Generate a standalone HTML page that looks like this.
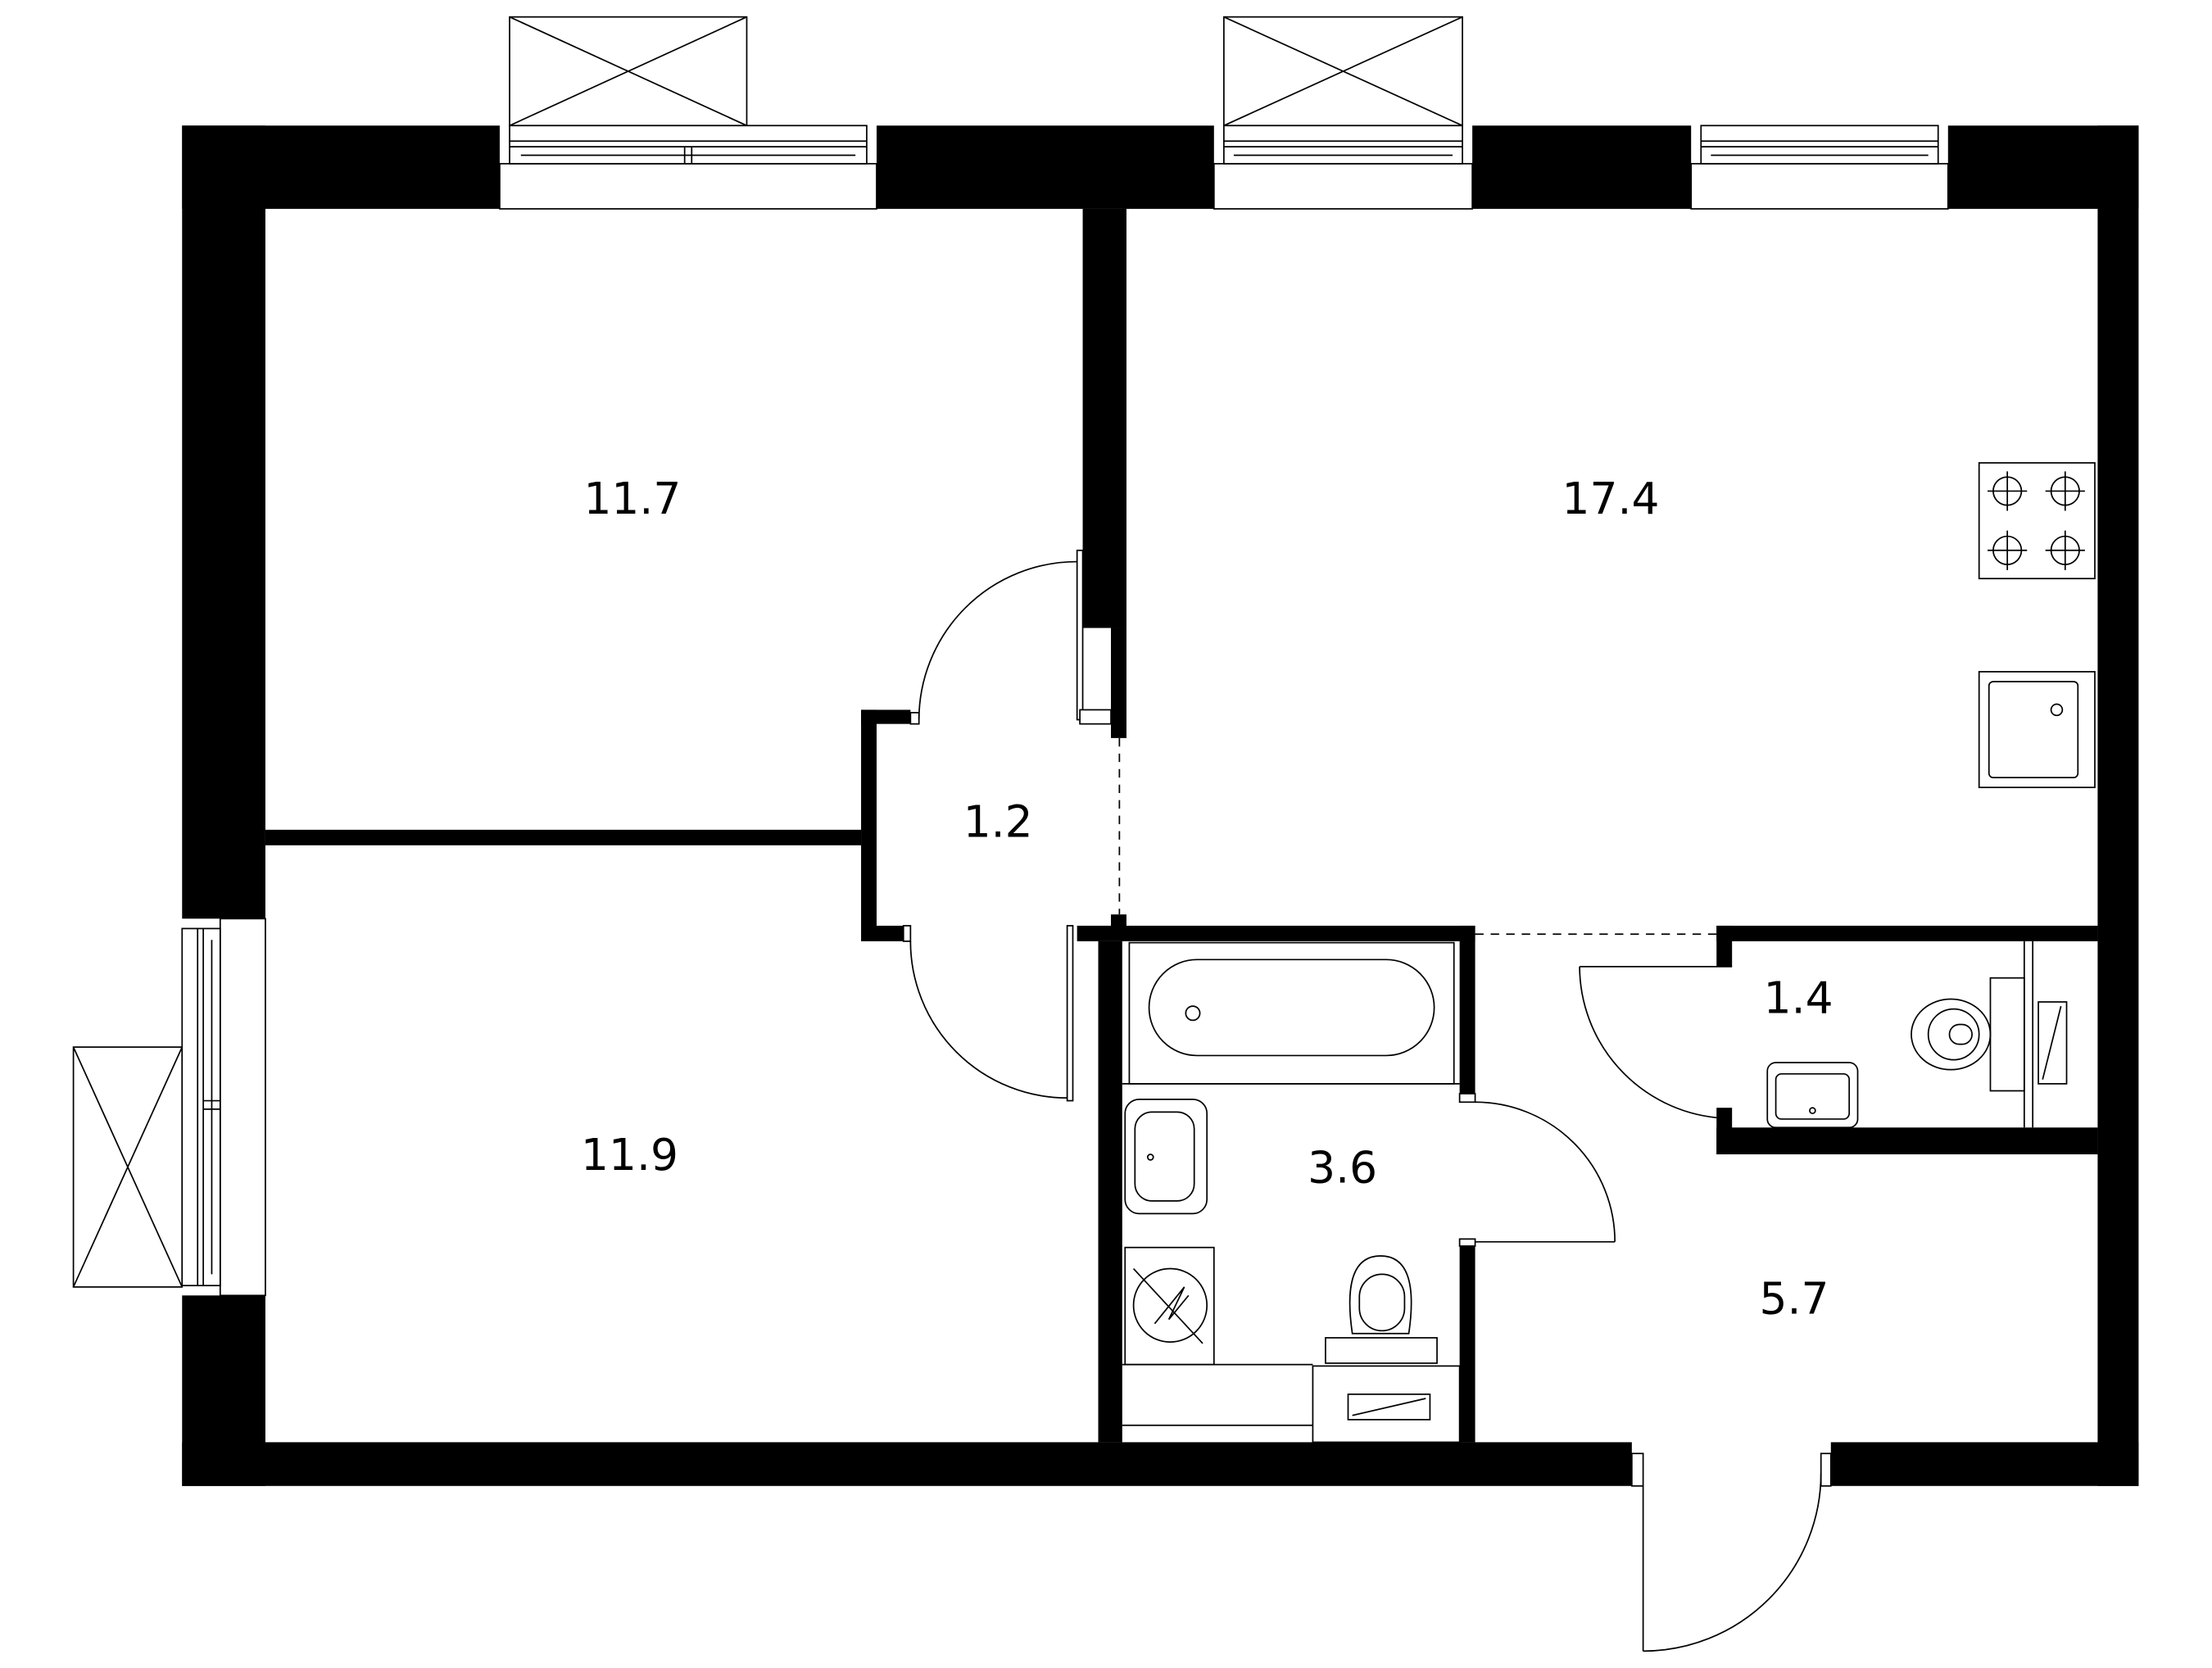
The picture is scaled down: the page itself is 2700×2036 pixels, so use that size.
<!DOCTYPE html>
<html><head><meta charset="utf-8"><style>html,body{margin:0;padding:0;background:#fff}svg{display:block}</style></head>
<body>
<svg width="2700" height="2036" viewBox="0 0 1567 1182" preserveAspectRatio="none" xmlns="http://www.w3.org/2000/svg">
<rect width="1567" height="1182" fill="#fff"/>
<g fill="none" stroke="#000" stroke-width="1">
<rect x="361" y="12" width="168" height="77"/><line x1="361" y1="12" x2="529" y2="89"/><line x1="529" y1="12" x2="361" y2="89"/>
<rect x="867" y="12" width="169" height="77"/><line x1="867" y1="12" x2="1036" y2="89"/><line x1="1036" y1="12" x2="867" y2="89"/>
<rect x="52" y="742" width="77" height="170"/><line x1="52" y1="742" x2="129" y2="912"/><line x1="129" y1="742" x2="52" y2="912"/>
</g>
<g fill="#000">
<rect x="129" y="89" width="225" height="59"/>
<rect x="621" y="89" width="239" height="59"/>
<rect x="1043" y="89" width="155" height="59"/>
<rect x="1380" y="89" width="135" height="59"/>
<rect x="129" y="89" width="59" height="562"/>
<rect x="129" y="918" width="59" height="135"/>
<rect x="1486" y="89" width="29" height="964"/>
<rect x="129" y="1022" width="1027" height="31"/>
<rect x="1297" y="1022" width="218" height="31"/>
<rect x="767" y="148" width="31" height="297"/>
<rect x="787" y="445" width="11" height="78"/>
<rect x="188" y="588" width="422" height="11"/>
<rect x="610" y="503" width="11" height="164"/>
<rect x="610" y="503" width="35" height="10"/>
<rect x="621" y="656" width="19" height="11"/>
<rect x="763" y="656" width="282" height="11"/>
<rect x="787" y="648" width="11" height="10"/>
<rect x="778" y="667" width="17" height="355"/>
<rect x="1034" y="656" width="11" height="119"/>
<rect x="1034" y="883" width="11" height="139"/>
<rect x="1216" y="656" width="270" height="11"/>
<rect x="1216" y="799" width="270" height="19"/>
<rect x="1216" y="656" width="11" height="29"/>
<rect x="1216" y="785" width="11" height="33"/>
</g>
<g fill="#fff" stroke="#000" stroke-width="1">
<rect x="354" y="116" width="267" height="32"/><rect x="361" y="89" width="253" height="27"/>
<line x1="361" y1="100" x2="614" y2="100"/><line x1="361" y1="104" x2="614" y2="104"/><line x1="369" y1="110" x2="606" y2="110"/><line x1="485" y1="104" x2="485" y2="116"/><line x1="490" y1="104" x2="490" y2="116"/>
<rect x="860" y="116" width="183" height="32"/><rect x="867" y="89" width="169" height="27"/>
<line x1="867" y1="100" x2="1036" y2="100"/><line x1="867" y1="104" x2="1036" y2="104"/><line x1="874" y1="110" x2="1029" y2="110"/>
<rect x="1198" y="116" width="182" height="32"/><rect x="1205" y="89" width="168" height="27"/>
<line x1="1205" y1="100" x2="1373" y2="100"/><line x1="1205" y1="104" x2="1373" y2="104"/><line x1="1212" y1="110" x2="1366" y2="110"/>
<rect x="156" y="651" width="32" height="267"/><rect x="129" y="658" width="27" height="253"/>
<line x1="140" y1="658" x2="140" y2="911"/><line x1="144" y1="658" x2="144" y2="911"/><line x1="150" y1="666" x2="150" y2="903"/><line x1="144" y1="780" x2="156" y2="780"/><line x1="144" y1="786" x2="156" y2="786"/>
</g>
<g fill="none" stroke="#000" stroke-width="1">
<rect x="763" y="390" width="4" height="120" fill="#fff"/>
<path d="M651,510 A112,112 0 0 1 763,398"/>
<rect x="645" y="505" width="6" height="8"/><rect x="765" y="503" width="22" height="10" fill="#fff"/>
<rect x="756" y="656" width="4" height="124" fill="#fff"/>
<path d="M645,667 A111,111 0 0 0 756,778"/><rect x="640" y="656" width="5" height="11"/>
<line x1="793" y1="523" x2="793" y2="648" stroke-dasharray="6,5"/>
<line x1="1045" y1="662" x2="1216" y2="662" stroke-dasharray="6,5"/>
<line x1="1045" y1="880" x2="1144" y2="880"/>
<path d="M1045,781 A99,99 0 0 1 1144,880"/>
<rect x="1034" y="775" width="11" height="6"/><rect x="1034" y="878" width="11" height="5"/>
<line x1="1119" y1="685" x2="1227" y2="685"/>
<path d="M1119,685 A108,108 0 0 0 1216,792"/>
<line x1="1164" y1="1053" x2="1164" y2="1170"/>
<path d="M1164,1170 A126,126 0 0 0 1290,1044"/>
<rect x="1156" y="1030" width="8" height="23"/><rect x="1290" y="1030" width="7" height="23"/>
<rect x="1402" y="328" width="82" height="82"/>
<circle cx="1422" cy="348" r="10"/><circle cx="1463" cy="348" r="10"/><circle cx="1422" cy="390" r="10"/><circle cx="1463" cy="390" r="10"/>
<path d="M1408,348h28M1422,334v28M1449,348h28M1463,334v28M1408,390h28M1422,376v28M1449,390h28M1463,376v28"/>
<rect x="1402" y="476" width="82" height="82"/><rect x="1409" y="483" width="63" height="68" rx="3"/><circle cx="1457" cy="503" r="4"/>
<rect x="800" y="668" width="230" height="100"/><line x1="795" y1="768" x2="1034" y2="768"/>
<rect x="814" y="680" width="202" height="68" rx="34"/><circle cx="845" cy="718" r="5"/>
<rect x="797" y="779" width="58" height="81" rx="10"/><rect x="804" y="788" width="42" height="63" rx="12"/><circle cx="815" cy="820" r="2"/>
<rect x="797" y="884" width="63" height="83"/><circle cx="829" cy="925" r="26"/><path d="M803,899 L852,952 M818,938 L839,912 L828,935 L842,918"/>
<line x1="795" y1="967" x2="930" y2="967"/><line x1="795" y1="1010" x2="930" y2="1010"/>
<rect x="939" y="948" width="79" height="18"/><path d="M958,945 Q950,890 978,890 Q1006,890 998,945 Z"/><rect x="963" y="903" width="32" height="40" rx="16"/>
<rect x="930" y="968" width="104" height="54"/><rect x="955" y="988" width="58" height="18"/><line x1="958" y1="1003" x2="1010" y2="991"/>
<line x1="1434" y1="667" x2="1434" y2="799"/><line x1="1440" y1="667" x2="1440" y2="799"/>
<rect x="1444" y="710" width="20" height="58"/><line x1="1447" y1="765" x2="1460" y2="713"/>
<rect x="1410" y="693" width="24" height="80"/><ellipse cx="1382" cy="733" rx="28" ry="25"/><ellipse cx="1384" cy="733" rx="18" ry="18"/><rect x="1381" y="726" width="16" height="14" rx="7"/>
<rect x="1252" y="753" width="64" height="46" rx="6"/><rect x="1258" y="761" width="52" height="32" rx="4"/><circle cx="1284" cy="787" r="2"/>
</g>
<g font-family="'DejaVu Sans', 'Liberation Sans', sans-serif" font-size="31" text-anchor="middle" fill="#000">
<text x="448" y="364">11.7</text>
<text x="1141" y="364">17.4</text>
<text x="707" y="593">1.2</text>
<text x="446" y="829">11.9</text>
<text x="951" y="838">3.6</text>
<text x="1274" y="718">1.4</text>
<text x="1271" y="931">5.7</text>
</g>
</svg>
</body></html>
